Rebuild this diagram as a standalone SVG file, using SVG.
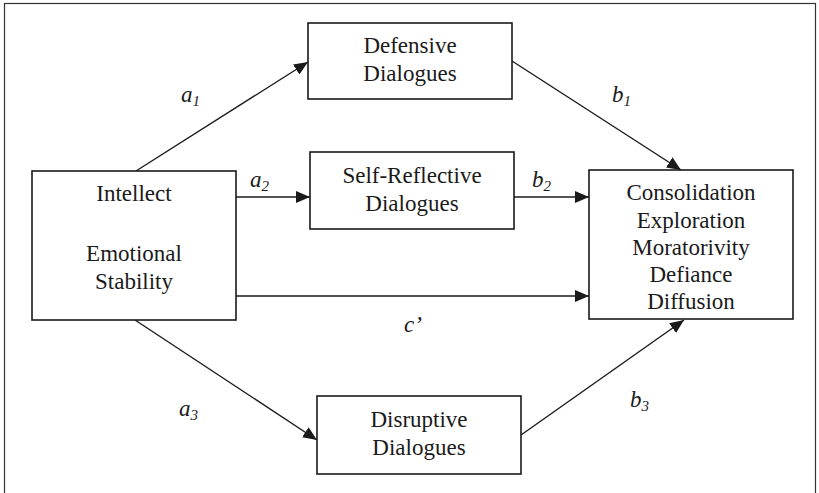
<svg xmlns="http://www.w3.org/2000/svg" width="819" height="493" viewBox="0 0 819 493">
<defs>
<marker id="ah" markerUnits="userSpaceOnUse" markerWidth="14" markerHeight="12" viewBox="0 0 14 12" refX="14" refY="6" orient="auto">
<path d="M0,0 L14,6 L0,12 Z" fill="#1a1a1a"/>
</marker>
</defs>
<rect x="0" y="0" width="819" height="493" fill="#fff"/>
<rect x="4.5" y="3.5" width="811" height="510" fill="none" stroke="#333" stroke-width="1.2"/>
<g id="connectors" stroke="#1a1a1a" stroke-width="1.4" fill="none" marker-end="url(#ah)">
<line x1="136" y1="171" x2="308" y2="62"/>
<line x1="236" y1="197" x2="310" y2="197"/>
<line x1="512" y1="61" x2="681" y2="170"/>
<line x1="514" y1="197" x2="589" y2="197"/>
<line x1="236" y1="296" x2="589" y2="296"/>
<line x1="135" y1="320" x2="317" y2="440"/>
<line x1="521" y1="435" x2="684" y2="320"/>
</g>
<g id="labels" font-family="Liberation Serif" font-size="23" font-style="italic" fill="#1a1a1a">
<text x="181" y="102">a<tspan font-size="15" dy="4">1</tspan></text>
<text x="250" y="187">a<tspan font-size="15" dy="4">2</tspan></text>
<text x="612" y="102">b<tspan font-size="15" dy="4">1</tspan></text>
<text x="532" y="187">b<tspan font-size="15" dy="4">2</tspan></text>
<text x="404" y="332">c’</text>
<text x="179" y="416">a<tspan font-size="15" dy="4">3</tspan></text>
<text x="630" y="407">b<tspan font-size="15" dy="4">3</tspan></text>
</g>
<g id="defensive" font-family="Liberation Serif" font-size="23" fill="#1a1a1a" text-anchor="middle">
<rect x="308" y="23" width="204" height="76" fill="#fff" stroke="#1a1a1a" stroke-width="1.6"/>
<text x="410" y="53">Defensive</text>
<text x="410" y="81">Dialogues</text>
</g>
<g id="selfreflective" font-family="Liberation Serif" font-size="23" fill="#1a1a1a" text-anchor="middle">
<rect x="310" y="152" width="204" height="77" fill="#fff" stroke="#1a1a1a" stroke-width="1.6"/>
<text x="412" y="183">Self-Reflective</text>
<text x="412" y="211">Dialogues</text>
</g>
<g id="predictors" font-family="Liberation Serif" font-size="23" fill="#1a1a1a" text-anchor="middle">
<rect x="32" y="171" width="204" height="149" fill="#fff" stroke="#1a1a1a" stroke-width="1.6"/>
<text x="134" y="201">Intellect</text>
<text x="134" y="261">Emotional</text>
<text x="134" y="289">Stability</text>
</g>
<g id="outcomes" font-family="Liberation Serif" font-size="23" fill="#1a1a1a" text-anchor="middle">
<rect x="589" y="170" width="204" height="149" fill="#fff" stroke="#1a1a1a" stroke-width="1.6"/>
<text x="691" y="200">Consolidation</text>
<text x="691" y="228">Exploration</text>
<text x="691" y="255">Moratorivity</text>
<text x="691" y="282">Defiance</text>
<text x="691" y="309">Diffusion</text>
</g>
<g id="disruptive" font-family="Liberation Serif" font-size="23" fill="#1a1a1a" text-anchor="middle">
<rect x="317" y="396" width="204" height="78" fill="#fff" stroke="#1a1a1a" stroke-width="1.6"/>
<text x="419" y="427">Disruptive</text>
<text x="419" y="455">Dialogues</text>
</g>
</svg>
